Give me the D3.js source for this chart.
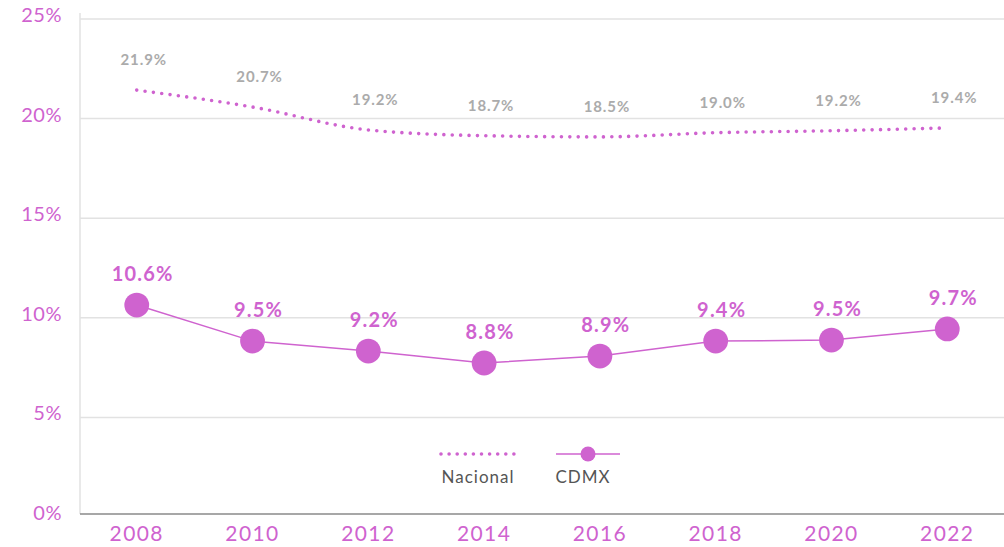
<!DOCTYPE html>
<html>
<head>
<meta charset="utf-8">
<script src="https://cdn.jsdelivr.net/npm/d3@7.9.0/dist/d3.min.js"></script>
<style>
  body { margin: 0; background: #fff; }
  svg { display: block; font-family: Lato, "Open Sans", sans-serif; }
</style>
</head>
<body>
<svg width="1004" height="547"></svg>
<script>
const years = ['2008', '2010', '2012', '2014', '2016', '2018', '2020', '2022'];
// values as drawn in the picture
const nacional = [21.28, 20.43, 19.28, 18.99, 18.93, 19.14, 19.24, 19.38];
const cdmx = [10.49, 8.68, 8.18, 7.58, 7.93, 8.68, 8.73, 9.29];
// printed labels
const nacionalLabels = ['21.9%', '20.7%', '19.2%', '18.7%', '18.5%', '19.0%', '19.2%', '19.4%'];
const cdmxLabels = ['10.6%', '9.5%', '9.2%', '8.8%', '8.9%', '9.4%', '9.5%', '9.7%'];
const yTicks = [0, 5, 10, 15, 20, 25];

const purple = '#cf63cf';
const svg = d3.select('svg');

const x = d3.scalePoint().domain(years).range([80, 1004]).padding(0.49);
const y = d3.scaleLinear().domain([0, 25]).range([514, 16]);

// grid
svg.append('g')
    .selectAll('line')
    .data(yTicks.filter(d => d > 0))
    .join('line')
    .attr('x1', 80).attr('x2', 1004)
    .attr('y1', d => y(d) + 3).attr('y2', d => y(d) + 3)
    .attr('stroke', '#e2e2e2').attr('stroke-width', 1.5);

svg.append('line')
    .attr('x1', 80).attr('x2', 80)
    .attr('y1', 13).attr('y2', y(0))
    .attr('stroke', '#e2e2e2').attr('stroke-width', 1.5);

svg.append('line')
    .attr('x1', 80).attr('x2', 1004)
    .attr('y1', y(0)).attr('y2', y(0))
    .attr('stroke', '#8a8a8a').attr('stroke-width', 1.5);

// y tick labels
svg.append('g')
    .selectAll('text')
    .data(yTicks)
    .join('text')
    .attr('x', 62)
    .attr('y', d => y(d))
    .attr('dy', '0.3em')
    .attr('text-anchor', 'end')
    .attr('font-size', 20)
    .attr('letter-spacing', 0.5)
    .attr('fill', purple)
    .text(d => d + '%');

// x tick labels
svg.append('g')
    .selectAll('text')
    .data(years)
    .join('text')
    .attr('x', d => x(d))
    .attr('y', 541)
    .attr('text-anchor', 'middle')
    .attr('font-size', 21)
    .attr('letter-spacing', 1.4)
    .attr('fill', purple)
    .text(d => d);

// Nacional dotted line
const lineNac = d3.line()
    .x((d, i) => x(years[i]))
    .y(d => y(d))
    .curve(d3.curveMonotoneX);

svg.append('path')
    .attr('d', lineNac(nacional))
    .attr('fill', 'none')
    .attr('stroke', purple)
    .attr('stroke-width', 3.6)
    .attr('stroke-linecap', 'round')
    .attr('stroke-dasharray', '0 8.4');

svg.append('g')
    .selectAll('text')
    .data(nacional)
    .join('text')
    .attr('x', (d, i) => x(years[i]) + 7)
    .attr('y', d => y(d) - 25)
    .attr('text-anchor', 'middle')
    .attr('font-size', 15)
    .attr('font-weight', 'bold')
    .attr('letter-spacing', 0.9)
    .attr('fill', '#ababab')
    .text((d, i) => nacionalLabels[i]);

// CDMX line with markers
const lineCdmx = d3.line()
    .x((d, i) => x(years[i]))
    .y(d => y(d));

svg.append('path')
    .attr('d', lineCdmx(cdmx))
    .attr('fill', 'none')
    .attr('stroke', purple)
    .attr('stroke-width', 1.5);

svg.append('g')
    .selectAll('circle')
    .data(cdmx)
    .join('circle')
    .attr('cx', (d, i) => x(years[i]))
    .attr('cy', d => y(d))
    .attr('r', 12.4)
    .attr('fill', purple);

svg.append('g')
    .selectAll('text')
    .data(cdmx)
    .join('text')
    .attr('x', (d, i) => x(years[i]) + 6)
    .attr('y', d => y(d) - 24)
    .attr('text-anchor', 'middle')
    .attr('font-size', 20)
    .attr('font-weight', 'bold')
    .attr('letter-spacing', 1.2)
    .attr('fill', purple)
    .text((d, i) => cdmxLabels[i]);

// legend
const legend = svg.append('g');
legend.append('line')
    .attr('x1', 441).attr('x2', 514)
    .attr('y1', 454).attr('y2', 454)
    .attr('stroke', purple)
    .attr('stroke-width', 3.6)
    .attr('stroke-linecap', 'round')
    .attr('stroke-dasharray', '0 8.1');
legend.append('text')
    .attr('x', 478).attr('y', 483)
    .attr('text-anchor', 'middle')
    .attr('font-size', 17)
    .attr('letter-spacing', 1)
    .attr('fill', '#555')
    .text('Nacional');

legend.append('line')
    .attr('x1', 556).attr('x2', 620)
    .attr('y1', 454).attr('y2', 454)
    .attr('stroke', purple)
    .attr('stroke-width', 1.5);
legend.append('circle')
    .attr('cx', 588).attr('cy', 454).attr('r', 7.5)
    .attr('fill', purple);
legend.append('text')
    .attr('x', 583).attr('y', 483)
    .attr('text-anchor', 'middle')
    .attr('font-size', 17)
    .attr('letter-spacing', 1)
    .attr('fill', '#555')
    .text('CDMX');
</script>
</body>
</html>
